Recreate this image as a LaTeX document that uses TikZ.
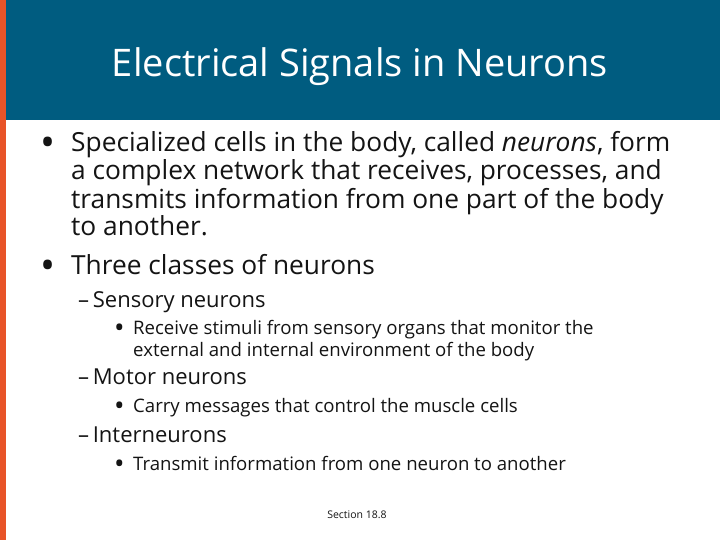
\documentclass[tikz,border=0pt]{standalone}
\usepackage{fontspec}
\setmainfont{Open Sans}
\definecolor{barblue}{RGB}{0,92,128}
\definecolor{barorange}{RGB}{232,84,40}
\definecolor{txt}{RGB}{20,20,20}
\begin{document}
\begin{tikzpicture}[x=1pt,y=-1pt,
  lone/.style={anchor=base west,inner sep=0,text=txt,font=\fontsize{26.3}{28}\selectfont},
  ltwo/.style={anchor=base west,inner sep=0,text=txt,font=\fontsize{22}{24}\selectfont},
  lthree/.style={anchor=base west,inner sep=0,text=txt,font=\fontsize{18.6}{20}\selectfont},
  bone/.style={anchor=base west,inner sep=0,text=txt,font=\fontsize{40}{40}\selectfont},
  bthree/.style={anchor=base west,inner sep=0,text=txt,font=\fontsize{28}{28}\selectfont}]
\useasboundingbox (0,0) rectangle (720,540);
\fill[white] (0,0) rectangle (720,540);
\fill[barblue] (6,0) rectangle (720,120);
\fill[barorange] (0,0) rectangle (6,540);
\node[text=white,font=\fontsize{38}{40}\selectfont,inner sep=0] (title) at (360,67) {Electrical Signals in Neurons};
\node[bone] (b1) at (40,157) {•};
\node[lone] (t1) at (71,152) {Specialized cells in the body, called \emph{neurons}, form};
\node[lone] (t2) at (71,180) {a complex network that receives, processes, and};
\node[lone] (t3) at (71,208) {transmits information from one part of the body};
\node[lone] (t4) at (71,236) {to another.};
\node[bone] (b2) at (40,279) {•};
\node[lone] (t5) at (71,274) {Three classes of neurons};
\node[ltwo] (s1) at (78,307) {–\,Sensory neurons};
\node[bthree] (c1b) at (114,337) {•};
\node[lthree] (c1) at (133,334) {Receive stimuli from sensory organs that monitor the};
\node[lthree] (c1x) at (133,356) {external and internal environment of the body};
\node[ltwo] (s2) at (78,384) {–\,Motor neurons};
\node[bthree] (c2b) at (114,415) {•};
\node[lthree] (c2) at (133,412) {Carry messages that control the muscle cells};
\node[ltwo] (s3) at (78,442) {–\,Interneurons};
\node[bthree] (c3b) at (114,473) {•};
\node[lthree] (c3) at (133,470) {Transmit information from one neuron to another};
\node[text=txt,font=\fontsize{10.5}{12}\selectfont,inner sep=0] (foot) at (357,515) {Section 18.8};
\end{tikzpicture}
\end{document}
